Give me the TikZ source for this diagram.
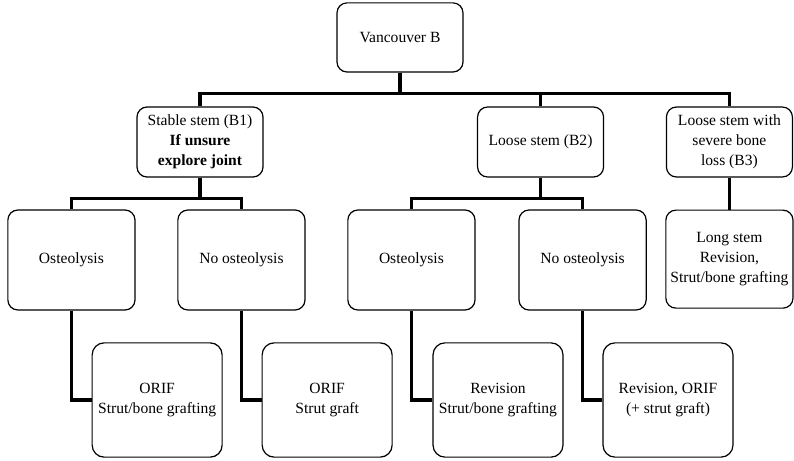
\documentclass[tikz,border=0pt]{standalone}
\usepackage{fontspec}
\setmainfont{Liberation Serif}
\begin{document}
\begin{tikzpicture}[
    box/.style={draw, line width=1.2pt, rounded corners=10pt, align=center, inner sep=2pt,
        font=\fontsize{15.5}{20}\selectfont},
    lvlone/.style={box, minimum width=4.41cm, minimum height=2.45cm},
    lvltwo/.style={box, minimum width=4.45cm, minimum height=3.5cm},
    lvlthree/.style={box, rounded corners=12pt, minimum width=4.55cm, minimum height=4cm},
    link/.style={line width=3pt}
]

        % Area del disegno
        \useasboundingbox (0,0) rectangle (27.79,-16.135);

        % Radice
        \node[box, minimum width=4.41cm, minimum height=2.42cm] (vb) at (14.0,-1.31) {Vancouver B};

        % Primo livello: tipi di stelo
        \node[lvlone] (b1) at (7.0,-4.97) {Stable stem (B1)\\\textbf{If unsure}\\\textbf{explore joint}};
        \node[lvlone] (b2) at (18.92,-4.97) {Loose stem (B2)};
        \node[lvlone] (b3) at (25.53,-4.97) {Loose stem with\\severe bone\\loss (B3)};

        % Secondo livello
        \node[lvltwo] (o1) at (2.50,-9.1) {Osteolysis};
        \node[lvltwo] (n1) at (8.45,-9.1) {No osteolysis};
        \node[lvltwo] (o2) at (14.40,-9.1) {Osteolysis};
        \node[lvltwo] (n2) at (20.39,-9.1) {No osteolysis};
        \node[lvltwo, minimum height=3.43cm] (ls) at (25.53,-9.07) {Long stem\\Revision,\\Strut/bone grafting};

        % Terzo livello: trattamenti
        \node[lvlthree] (r1) at (5.50,-14.0) {ORIF\\Strut/bone grafting};
        \node[lvlthree] (r2) at (11.45,-14.0) {ORIF\\Strut graft};
        \node[lvlthree] (r3) at (17.43,-14.0) {Revision\\Strut/bone grafting};
        \node[lvlthree] (r4) at (23.38,-14.0) {Revision, ORIF\\(+ strut graft)};

        % Collegamenti radice -> primo livello
        \draw[link] (vb.south) -- ++(0,-0.735) -| (b1.north);
        \draw[link] (vb.south) -- ++(0,-0.735) -| (b2.north);
        \draw[link] (vb.south) -- ++(0,-0.735) -| (b3.north);

        % Collegamenti primo -> secondo livello
        \draw[link] (b1.south) -- ++(0,-0.735) -| (o1.north);
        \draw[link] (b1.south) -- ++(0,-0.735) -| (n1.north);
        \draw[link] (b2.south) -- ++(0,-0.735) -| (o2.north);
        \draw[link] (b2.south) -- ++(0,-0.735) -| (n2.north);
        \draw[link] (b3.south) -- (ls.north);

        % Collegamenti secondo -> terzo livello
        \draw[link] (o1.south) |- (r1.west);
        \draw[link] (n1.south) |- (r2.west);
        \draw[link] (o2.south) |- (r3.west);
        \draw[link] (n2.south) |- (r4.west);

    \end{tikzpicture}
\end{document}
